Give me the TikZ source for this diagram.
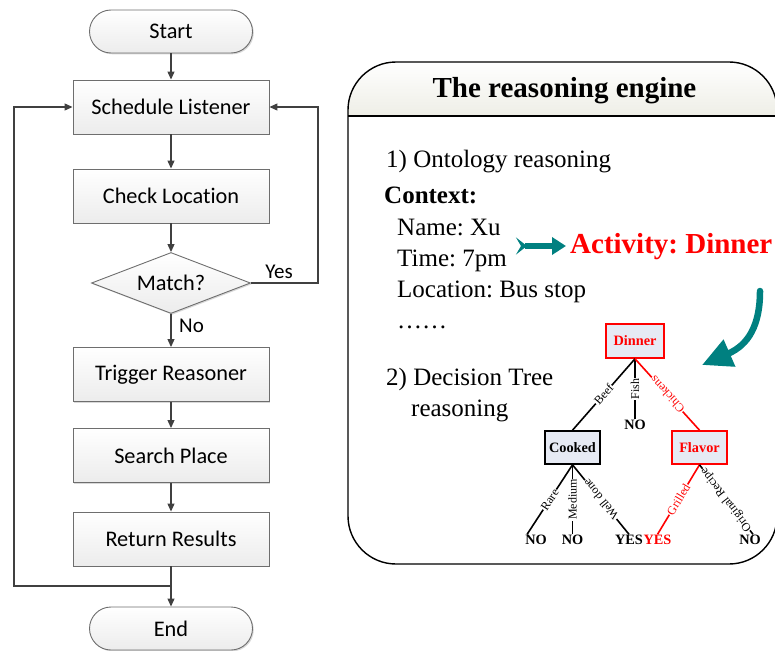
\documentclass[tikz,border=0pt]{standalone}
\usepackage{fontspec}
\setmainfont{Liberation Serif}
\newfontfamily\flowfont[Ligatures={NoCommon}]{Carlito}
\usetikzlibrary{arrows.meta,shadows,shapes.geometric}
\definecolor{fline}{HTML}{404040}
\definecolor{fborder}{HTML}{6E6E6E}
\definecolor{tealc}{HTML}{008080}
\definecolor{treefill}{HTML}{E6EAF4}
\definecolor{headfill}{HTML}{EEEEE6}
\frenchspacing
\tikzset{
  flowbase/.style={draw=fborder, line width=0.9pt, top color=white, bottom color=gray!15,
    font=\flowfont\fontsize{22.3}{25}\selectfont, text=black,
    drop shadow={shadow xshift=1.3pt, shadow yshift=-1.3pt, fill=gray!60, opacity=.5}},
  fbox/.style={flowbase, minimum width=196pt, minimum height=54pt},
  term/.style={flowbase, rounded corners=21.5pt, minimum width=163pt, minimum height=43pt},
  decis/.style={flowbase, diamond, shape aspect=2.6, inner sep=0pt, minimum width=159pt, minimum height=61pt},
  farrow/.style={draw=fline, line width=1.1pt, -{Triangle[length=8pt,width=7pt]}},
  flab/.style={font=\flowfont\fontsize{21}{23}\selectfont},
  body/.style={font=\fontsize{25}{28}\selectfont, inner sep=0pt},
  tnode/.style={draw=black, line width=1.6pt, fill=treefill, inner sep=0pt,
    font=\bfseries\fontsize{14.3}{16}\selectfont},
  rnode/.style={tnode, draw=red, text=red},
  leaf/.style={font=\bfseries\fontsize{14.3}{16}\selectfont, inner sep=0pt},
  tedge/.style={line width=1.6pt},
  elab/.style={font=\fontsize{12}{12}\selectfont, fill=white, inner sep=0.6pt, sloped, allow upside down, pos=0.5}
}
\begin{document}
\begin{tikzpicture}[x=1pt,y=-1pt]
\useasboundingbox (0,0) rectangle (775,650);

% ---------------- flowchart ----------------
\node[term] (start) at (171,31.5) {Start};
\node[fbox] (sched) at (171,107) {Schedule Listener};
\node[fbox] (check) at (171,196) {Check Location};
\node[decis] (match) at (171,283) {Match?};
\node[fbox] (trig) at (171,374.5) {Trigger Reasoner};
\node[fbox] (search) at (171,455.5) {Search Place};
\node[fbox] (ret) at (171,539) {Return Results};
\node[term] (end) at (171,628.5) {End};
\coordinate (J) at (171,586);

\draw[farrow] (start) -- (sched);
\draw[farrow] (sched) -- (check);
\draw[farrow] (check) -- (match);
\draw[farrow] (match) -- (trig);
\path (match.south) -- (trig.north) node[pos=0.36, right, flab, inner sep=3pt, xshift=5pt] (no) {No};
\draw[farrow] (trig) -- (search);
\draw[farrow] (search) -- (ret);
\draw[farrow] (ret) -- (end);
\draw[farrow] (J) -| (14,107) -- (sched.west);
\draw[farrow] (match.east) -- (318,283) -- (318,107) -- (sched.east);
\node[flab, anchor=south, inner sep=0pt] (yes) at (279,279) {Yes};

% ---------------- reasoning engine ----------------
\begin{scope}
  \clip[rounded corners=48pt] (348,62) rectangle (777,564);
  \fill[top color=white, bottom color=headfill] (348,62) rectangle (777,116);
\end{scope}
\draw[line width=1.4pt, rounded corners=48pt] (348,62) rectangle (777,564);
\draw[line width=1.4pt] (348,116) -- (777,116);
\node[anchor=base, inner sep=0pt, font=\bfseries\fontsize{29}{32}\selectfont] (title) at (564.5,98) {The reasoning engine};

\node[body, anchor=base west] (onto) at (386,167) {1) Ontology reasoning};
\node[body, anchor=base west, font=\bfseries\fontsize{25}{28}\selectfont] (ctx) at (384,203) {Context:};
\node[body, anchor=base west] (name) at (397,235) {Name: Xu};
\node[body, anchor=base west] (time) at (397,266) {Time: 7pm};
\node[body, anchor=base west] (loc) at (397,297) {Location: Bus stop};
\node[body, anchor=base west] (dots) at (397,328) {……};
\node[body, anchor=base west] (dt1) at (386,385) {2) Decision Tree};
\node[body, anchor=base west] (dt2) at (411,416) {reasoning};
\node[anchor=base west, inner sep=0pt, text=red, font=\bfseries\fontsize{29}{32}\selectfont] (act) at (570,253) {Activity: Dinner};

\coordinate (ta) at (516,246);
\coordinate (tb) at (566,246);
\draw[tealc, line width=5.5pt, {Stealth[reversed,length=11pt,width=17pt,inset=5pt]}-{Triangle[length=14pt,width=17pt]}] (ta) -- (tb);

\coordinate (c1) at (760,291);
\coordinate (c2) at (702,365);
\draw[tealc, line width=6.5pt, line cap=round, -{Triangle[length=30pt,width=28pt]}] (c1) .. controls (760,326) and (748,345) .. (c2);

% ---------------- decision tree ----------------
\node[rnode, minimum width=58pt, minimum height=34pt] (dinner) at (635,341) {Dinner};
\node[tnode, minimum width=55pt, minimum height=33pt] (cooked) at (572.5,447.5) {Cooked};
\node[rnode, minimum width=55pt, minimum height=33pt] (flavor) at (699.5,447.5) {Flavor};

\node[leaf, anchor=base] (nofish) at (635,429) {NO};
\node[leaf, anchor=base] (no1) at (536,544) {NO};
\node[leaf, anchor=base] (no2) at (572.5,544) {NO};
\node[leaf, anchor=base] (yes1) at (629,544) {YES};
\node[leaf, anchor=base, text=red] (yes2) at (657.5,544) {YES};
\node[leaf, anchor=base] (no3) at (750,544) {NO};

\draw[tedge] (cooked.north) -- node[elab] {Beef} (dinner.south);
\draw[tedge] (nofish.north) -- node[elab] {Fish} (dinner.south);
\draw[tedge, red] (flavor.north) -- node[elab] {Chickens} (dinner.south);
\draw[tedge] ([xshift=2pt]no1.north west) -- node[elab] {Rare} (cooked.south);
\draw[tedge] (no2.north) -- node[elab] {Medium} (cooked.south);
\draw[tedge] (yes1.north) -- node[elab] {Well done} (cooked.south);
\draw[tedge, red] (yes2.north) -- node[elab] {Grilled} (flavor.south);
\draw[tedge] ([xshift=3pt]no3.north) -- node[elab] {Original Recipe} (flavor.south);
\end{tikzpicture}
\end{document}
